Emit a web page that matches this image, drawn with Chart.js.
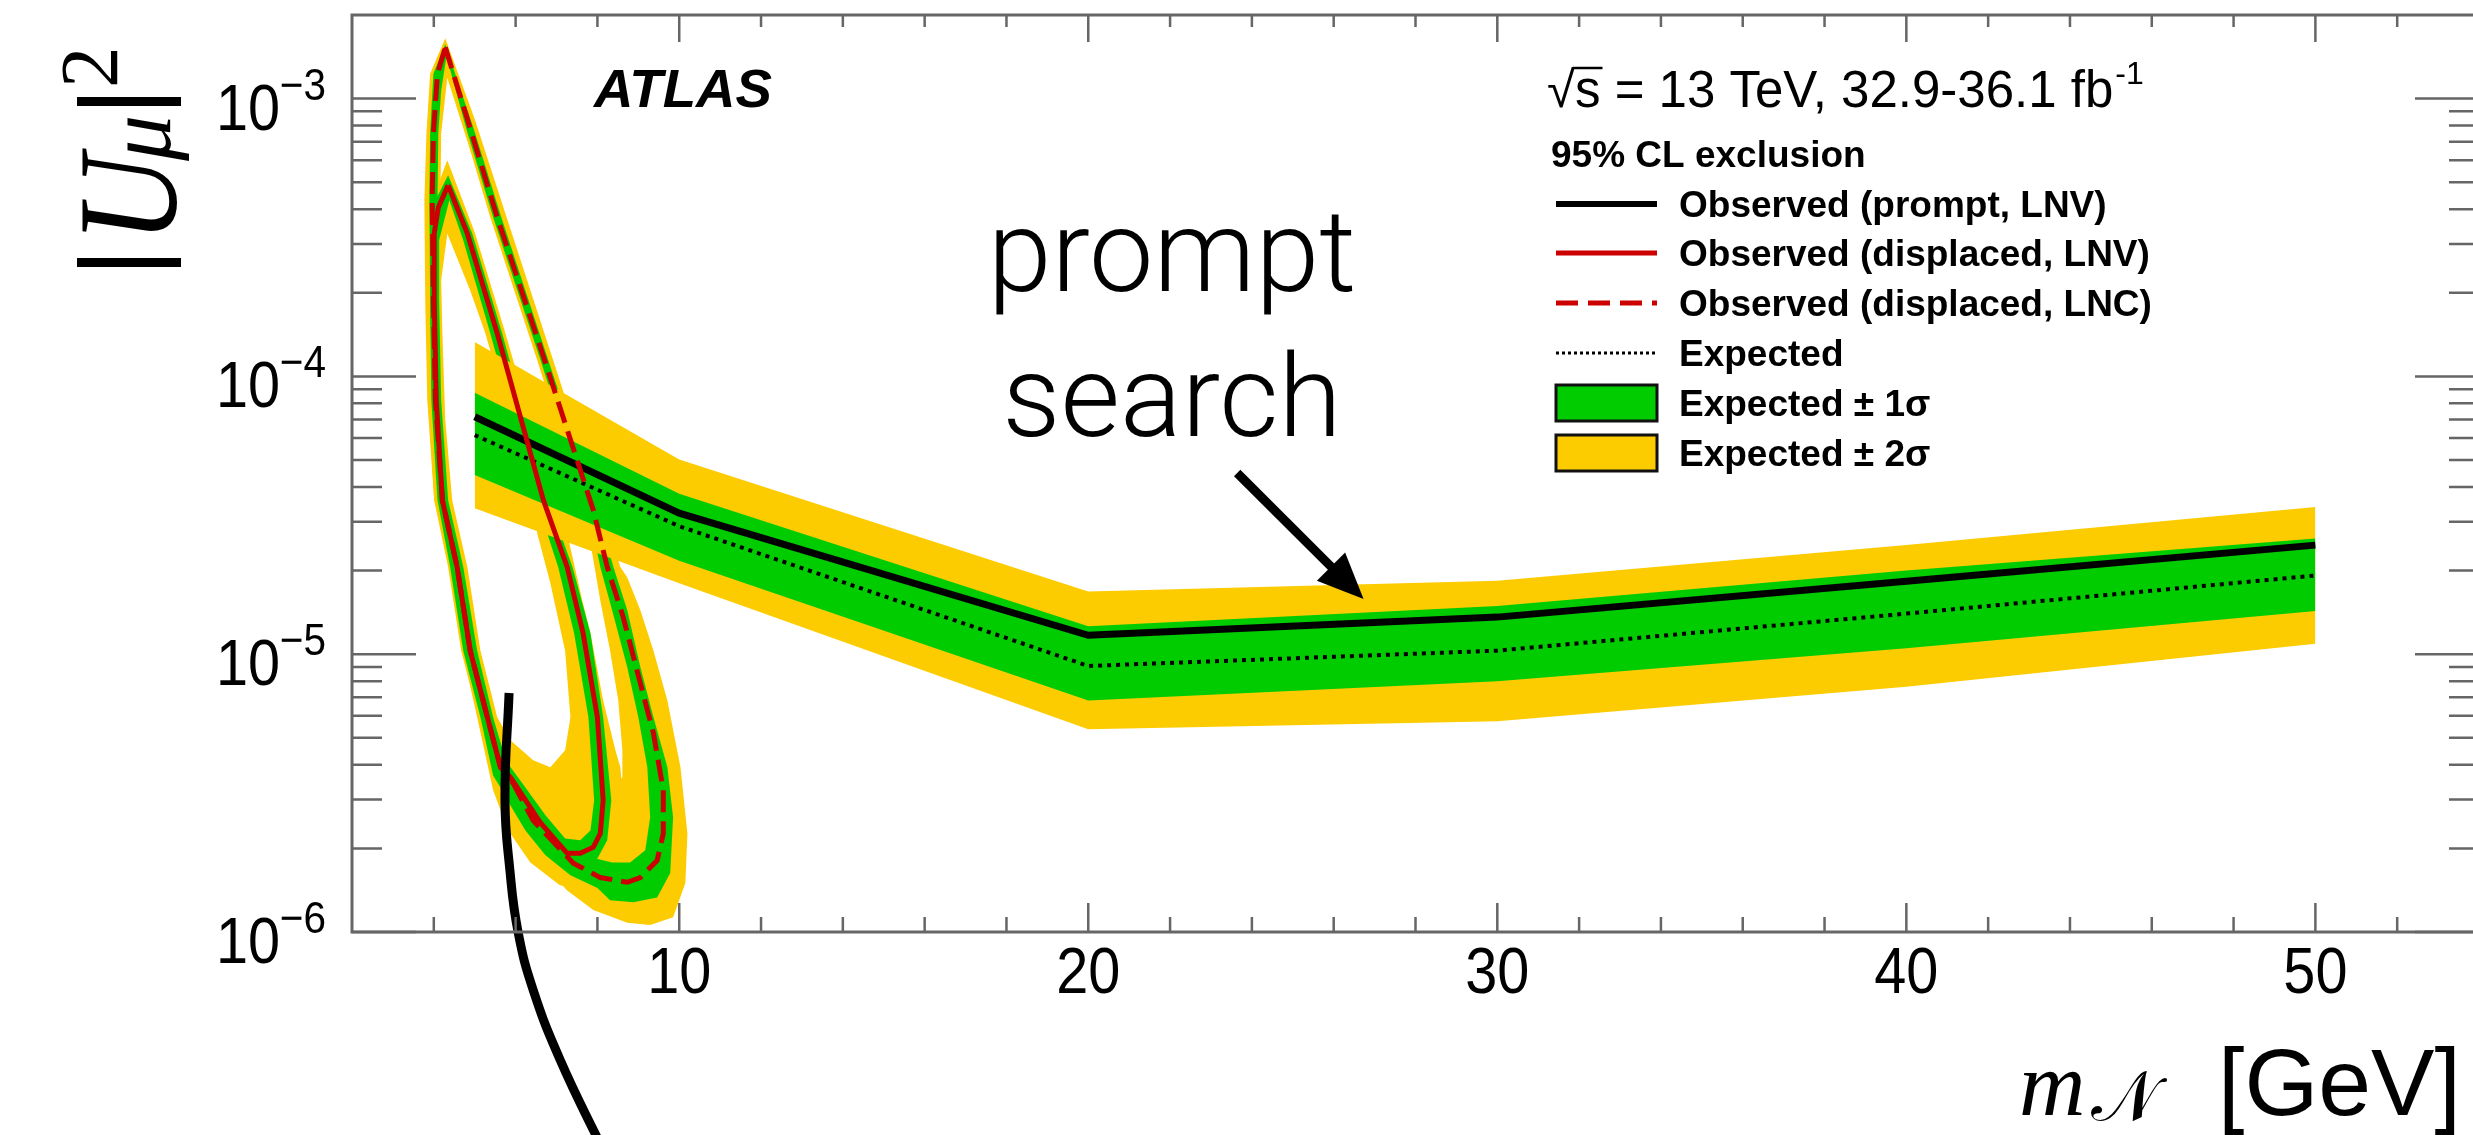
<!DOCTYPE html>
<html>
<head>
<meta charset="utf-8">
<script src="https://cdn.jsdelivr.net/npm/chart.js@4.4.1/dist/chart.umd.min.js"></script>
<style>
  html, body { margin: 0; padding: 0; background: #ffffff; overflow: hidden; }
  #wrap { width: 2490px; height: 1135px; }
</style>
</head>
<body>
<div id="wrap"><canvas id="chart" width="2490" height="1135"></canvas></div>
<script>
// ---- prompt search, mass points in GeV ----
const promptMass = [5, 10, 20, 30, 40, 50];
const promptObs = [7.16e-5, 3.22e-5, 1.17e-5, 1.36e-5, 1.83e-5, 2.47e-5];
const promptExp = [6.15e-5, 2.89e-5, 9.07e-6, 1.03e-5, 1.40e-5, 1.92e-5];
const promptUp1 = [8.73e-5, 3.78e-5, 1.26e-5, 1.49e-5, 2.0e-5, 2.61e-5];
const promptDn1 = [4.42e-5, 2.17e-5, 6.81e-6, 8.0e-6, 1.05e-5, 1.43e-5];
const promptUp2 = [1.33e-4, 5.02e-5, 1.68e-5, 1.84e-5, 2.47e-5, 3.39e-5];
const promptDn2 = [3.35e-5, 1.80e-5, 5.37e-6, 5.74e-6, 7.63e-6, 1.09e-5];

// ---- displaced search, LNV contour (observed) ----
const lnvObsMass = [4.35, 4.82, 5.55, 6.14, 6.68, 7.26, 7.65, 8.00, 8.14, 8.07, 7.90, 7.58, 7.26, 6.60, 5.87, 5.63, 5.31, 4.89, 4.57, 4.21, 4.06, 4.01, 4.01, 4.11, 4.35];
const lnvObsU2 = [4.88e-4, 3.27e-4, 1.43e-4, 6.95e-5, 3.58e-5, 2.06e-5, 1.19e-5, 5.93e-6, 2.98e-6, 2.26e-6, 2.02e-6, 1.92e-6, 1.92e-6, 2.48e-6, 3.61e-6, 3.92e-6, 5.93e-6, 1.03e-5, 2.06e-5, 3.58e-5, 8.2e-5, 1.88e-4, 3.27e-4, 4.06e-4, 4.88e-4];

// ---- displaced search, LNC contour (observed) ----
const lncObsMass = [4.28, 4.89, 5.55, 6.73, 7.90, 8.24, 8.63, 9.05, 9.37, 9.61, 9.61, 9.46, 9.05, 8.73, 8.07, 7.41, 6.43, 5.94, 5.63, 5.31, 4.89, 4.57, 4.21, 4.04, 3.99, 3.96, 3.99, 4.09, 4.28];
const lncObsU2 = [1.53e-3, 7.82e-4, 3.74e-4, 1.12e-4, 3.30e-5, 2.06e-5, 1.36e-5, 7.85e-6, 5.19e-6, 3.24e-6, 2.26e-6, 1.81e-6, 1.57e-6, 1.51e-6, 1.57e-6, 1.77e-6, 2.52e-6, 3.43e-6, 3.92e-6, 5.93e-6, 1.03e-5, 2.06e-5, 3.58e-5, 8.2e-5, 1.88e-4, 4.31e-4, 7.5e-4, 1.23e-3, 1.53e-3];

// ---- displaced expected bands: outer / inner contours ----
const lnvY2OutMass = [4.33, 5.01, 5.75, 6.36, 6.90, 7.26, 7.63, 7.83, 8.14, 8.44, 8.56, 8.61, 8.56, 8.36, 8.07, 7.58, 7.09, 6.36, 5.82, 5.45, 5.06, 4.70, 4.38, 4.01, 3.87, 3.82, 3.84, 3.96, 4.33];
const lnvY2OutU2 = [6.0e-4, 3.27e-4, 1.43e-4, 6.95e-5, 3.89e-5, 2.72e-5, 1.56e-5, 1.19e-5, 6.82e-6, 4.51e-6, 3.92e-6, 3.24e-6, 2.52e-6, 1.97e-6, 1.67e-6, 1.47e-6, 1.47e-6, 1.78e-6, 2.32e-6, 3.24e-6, 5.93e-6, 1.03e-5, 2.06e-5, 3.58e-5, 8.2e-5, 1.88e-4, 3.27e-4, 4.31e-4, 6.0e-4];
const lnvY2InMass = [4.33, 4.89, 5.26, 5.87, 6.36, 6.53, 6.85, 7.21, 7.34, 7.21, 6.85, 6.43, 5.87, 5.55, 5.14, 4.82, 4.45, 4.28, 4.21, 4.18, 4.33];
const lnvY2InU2 = [3.27e-4, 2.04e-4, 1.43e-4, 6.95e-5, 3.89e-5, 2.72e-5, 1.80e-5, 1.03e-5, 5.93e-6, 4.51e-6, 3.92e-6, 4.15e-6, 4.90e-6, 5.93e-6, 1.03e-5, 2.06e-5, 3.58e-5, 6.95e-5, 1.43e-4, 2.22e-4, 3.27e-4];

const lncY2OutMass = [4.28, 5.01, 5.75, 6.92, 8.07, 8.56, 8.73, 9.05, 9.37, 9.71, 10.03, 10.20, 10.15, 9.85, 9.29, 8.73, 7.90, 7.26, 6.60, 6.11, 5.63, 5.31, 5.09, 4.67, 4.35, 4.01, 3.84, 3.79, 3.77, 3.82, 3.91, 4.28];
const lncY2OutU2 = [1.65e-3, 8.36e-4, 3.86e-4, 1.14e-4, 3.44e-5, 2.06e-5, 1.89e-5, 1.44e-5, 1.03e-5, 6.82e-6, 3.92e-6, 2.26e-6, 1.50e-6, 1.13e-6, 1.06e-6, 1.08e-6, 1.20e-6, 1.41e-6, 1.81e-6, 2.59e-6, 3.37e-6, 4.70e-6, 5.93e-6, 1.03e-5, 2.06e-5, 3.58e-5, 8.2e-5, 1.88e-4, 4.31e-4, 7.5e-4, 1.23e-3, 1.65e-3];
const lncY2InMass = [4.33, 4.89, 5.38, 6.53, 7.65, 7.83, 8.07, 8.31, 8.51, 8.61, 8.61, 8.19, 7.58, 6.85, 6.11, 5.75, 5.38, 5.01, 4.65, 4.33, 4.18, 4.16, 4.16, 4.18, 4.33];
const lncY2InU2 = [1.19e-3, 6.52e-4, 3.74e-4, 1.14e-4, 3.44e-5, 2.51e-5, 1.56e-5, 1.03e-5, 6.82e-6, 4.51e-6, 3.61e-6, 3.10e-6, 2.98e-6, 3.24e-6, 3.82e-6, 4.51e-6, 6.82e-6, 1.03e-5, 2.06e-5, 3.58e-5, 8.2e-5, 1.88e-4, 4.31e-4, 7.5e-4, 1.19e-3];

const lnvG1OutMass = [4.35, 4.94, 5.67, 6.26, 6.80, 7.39, 7.83, 8.14, 8.34, 8.24, 8.00, 7.58, 7.09, 6.48, 5.82, 5.45, 5.14, 4.72, 4.40, 4.09, 3.94, 3.91, 3.91, 4.04, 4.35];
const lnvG1OutU2 = [5.30e-4, 3.27e-4, 1.43e-4, 6.95e-5, 3.58e-5, 2.06e-5, 1.19e-5, 5.93e-6, 2.98e-6, 2.14e-6, 1.84e-6, 1.72e-6, 1.72e-6, 2.14e-6, 2.98e-6, 3.66e-6, 5.93e-6, 1.03e-5, 2.06e-5, 3.58e-5, 8.2e-5, 1.88e-4, 3.27e-4, 4.31e-4, 5.30e-4];
const lnvG1InMass = [4.38, 4.72, 5.38, 5.97, 6.51, 7.04, 7.43, 7.78, 7.92, 7.83, 7.58, 7.21, 6.73, 6.11, 5.75, 5.45, 5.06, 4.72, 4.35, 4.18, 4.13, 4.13, 4.38];
const lnvG1InU2 = [4.31e-4, 3.09e-4, 1.43e-4, 6.95e-5, 3.58e-5, 2.06e-5, 1.19e-5, 5.93e-6, 2.98e-6, 2.32e-6, 2.14e-6, 2.17e-6, 2.63e-6, 3.52e-6, 4.15e-6, 5.93e-6, 1.03e-5, 2.06e-5, 3.58e-5, 8.2e-5, 1.88e-4, 3.09e-4, 4.31e-4];

const lncG1OutMass = [4.28, 4.97, 5.65, 6.82, 8.00, 8.39, 8.73, 9.05, 9.37, 9.71, 9.85, 9.78, 9.46, 8.88, 8.31, 8.00, 7.34, 6.73, 6.24, 5.87, 5.58, 5.21, 4.79, 4.48, 4.11, 3.96, 3.91, 3.89, 3.91, 3.99, 4.28];
const lncG1OutU2 = [1.57e-3, 7.82e-4, 3.74e-4, 1.12e-4, 3.30e-5, 2.06e-5, 1.44e-5, 8.97e-6, 5.93e-6, 3.92e-6, 2.59e-6, 1.63e-6, 1.33e-6, 1.28e-6, 1.30e-6, 1.44e-6, 1.60e-6, 1.89e-6, 2.32e-6, 2.86e-6, 3.66e-6, 5.55e-6, 1.03e-5, 2.06e-5, 3.58e-5, 8.2e-5, 1.88e-4, 4.31e-4, 7.5e-4, 1.23e-3, 1.57e-3];
const lncG1InMass = [4.31, 4.79, 5.45, 6.63, 7.78, 8.07, 8.36, 8.73, 9.00, 9.22, 9.29, 9.17, 8.80, 8.36, 7.83, 7.21, 6.60, 6.11, 5.77, 5.43, 5.04, 4.70, 4.33, 4.16, 4.11, 4.09, 4.11, 4.18, 4.31];
const lncG1InU2 = [1.42e-3, 7.82e-4, 3.74e-4, 1.12e-4, 3.30e-5, 2.06e-5, 1.44e-5, 8.97e-6, 5.93e-6, 3.92e-6, 2.59e-6, 1.97e-6, 1.78e-6, 1.78e-6, 1.86e-6, 2.05e-6, 2.52e-6, 3.24e-6, 4.15e-6, 5.93e-6, 1.03e-5, 2.06e-5, 3.58e-5, 8.2e-5, 1.88e-4, 4.31e-4, 7.5e-4, 1.07e-3, 1.42e-3];

// ---- hand-drawn annotations (in data coordinates) ----
const arcMass = [5.84, 5.74, 5.86, 6.06, 6.43, 7.09, 8.14];
const arcU2 = [7.25e-6, 2.99e-6, 1.67e-6, 1.0e-6, 6.18e-7, 3.46e-7, 1.64e-7];
const arrowMass = [23.64, 26.73];
const arrowU2 = [4.49e-5, 1.58e-5];

// ---- axes and legend text ----
const xTickValues = [10, 20, 30, 40, 50];
const xTickLabels = ['10', '20', '30', '40', '50'];
const yTickValues = [1e-3, 1e-4, 1e-5, 1e-6];
const yTickExponents = ['\u22123', '\u22124', '\u22125', '\u22126'];
const legendLabels = [
  'Observed (prompt, LNV)',
  'Observed (displaced, LNV)',
  'Observed (displaced, LNC)',
  'Expected',
  'Expected \u00b1 1\u03c3',
  'Expected \u00b1 2\u03c3',
];

const YELLOW = '#fccb00';
const GREEN = '#00cc00';
const RED = '#cc0000';
const NONE = 'rgba(0,0,0,0)';
const SANS = '"Liberation Sans", Arial, Helvetica, sans-serif';
const SERIF = '"Liberation Serif", "DejaVu Serif", serif';

function xy(xs, ys) {
  return xs.map((x, i) => ({ x: x, y: ys[i] }));
}

// outer contour followed by the inner one reversed -> filled ring
function ring(oX, oY, iX, iY) {
  return xy(oX, oY).concat(xy(iX, iY).reverse());
}

function shape(data, color, order) {
  return { data, showLine: true, fill: 'shape', backgroundColor: color, borderColor: NONE, borderWidth: 0, pointRadius: 0, order };
}

function line(data, color, width, dash, order) {
  return { data, showLine: true, fill: false, borderColor: color, borderWidth: width, borderDash: dash, pointRadius: 0, order };
}

const datasets = [
  shape(ring(lncY2OutMass, lncY2OutU2, lncY2InMass, lncY2InU2), YELLOW, 20),
  shape(ring(lnvY2OutMass, lnvY2OutU2, lnvY2InMass, lnvY2InU2), YELLOW, 19),
  shape(ring(lncG1OutMass, lncG1OutU2, lncG1InMass, lncG1InU2), GREEN, 18),
  shape(ring(lnvG1OutMass, lnvG1OutU2, lnvG1InMass, lnvG1InU2), GREEN, 17),
  { data: xy(promptMass, promptUp2), showLine: true, fill: 5, backgroundColor: YELLOW, borderColor: NONE, borderWidth: 0, pointRadius: 0, order: 16 },
  line(xy(promptMass, promptDn2), NONE, 0, [], 15),
  { data: xy(promptMass, promptUp1), showLine: true, fill: 7, backgroundColor: GREEN, borderColor: NONE, borderWidth: 0, pointRadius: 0, order: 14 },
  line(xy(promptMass, promptDn1), NONE, 0, [], 13),
  line(xy(promptMass, promptExp), '#000000', 4, [4, 5], 12),
  line(xy(promptMass, promptObs), '#000000', 7, [], 11),
  line(xy(lnvObsMass, lnvObsU2), RED, 5, [], 10),
  line(xy(lncObsMass, lncObsU2), RED, 5, [22, 9], 9),
  Object.assign(line(xy(arcMass, arcU2), '#000000', 9, [], 1), { clip: false, tension: 0.45 }),
];

function drawText(ctx, str, x, y, font, align, sx) {
  ctx.save();
  ctx.font = font;
  ctx.textAlign = align || 'left';
  ctx.textBaseline = 'alphabetic';
  ctx.translate(x, y);
  if (sx) ctx.scale(sx, 1);
  ctx.fillText(str, 0, 0);
  ctx.restore();
}

/**
 * ROOT style frame: ticks inside on all four sides, labels outside
 */
const rootFrame = {
  id: 'rootFrame',
  afterDraw(chart) {
    const { ctx, chartArea: a } = chart;
    const xs = chart.scales.x;
    const ys = chart.scales.y;
    ctx.save();
    ctx.strokeStyle = '#666666';
    ctx.lineWidth = 2.5;
    ctx.beginPath();
    for (let v = 4; v < 54; v += 2) {
      const px = xs.getPixelForValue(v);
      const major = xTickValues.includes(v);
      ctx.moveTo(px, a.bottom);
      ctx.lineTo(px, a.bottom - (major ? 29 : 15));
      ctx.moveTo(px, a.top);
      ctx.lineTo(px, a.top + (major ? 27 : 12));
    }
    yTickValues.forEach((d) => {
      for (let m = 1; m <= 9; m++) {
        const v = d * m;
        if (v >= 0.002) continue;
        const py = ys.getPixelForValue(v);
        const len = m === 1 ? 64 : 30;
        ctx.moveTo(a.left, py);
        ctx.lineTo(a.left + len, py);
        ctx.moveTo(a.right, py);
        ctx.lineTo(a.right - len, py);
      }
    });
    ctx.stroke();
    ctx.lineWidth = 3;
    ctx.strokeRect(a.left, a.top, a.right - a.left, a.bottom - a.top);

    ctx.fillStyle = '#000000';
    xTickValues.forEach((v, i) => {
      drawText(ctx, xTickLabels[i], xs.getPixelForValue(v), 993, '64px ' + SANS, 'center', 0.9);
    });
    yTickValues.forEach((v, i) => {
      const py = ys.getPixelForValue(v);
      drawText(ctx, '10', 280, py + 31, '64px ' + SANS, 'right', 0.9);
      drawText(ctx, yTickExponents[i], 326, py + 1, '45px ' + SANS, 'right', 0.9);
    });
    ctx.restore();
  },
};

/**
 * Labels, legend and the hand-drawn "prompt search" arrow
 */
const annotations = {
  id: 'annotations',
  afterDraw(chart) {
    const { ctx } = chart;
    const xs = chart.scales.x;
    const ys = chart.scales.y;
    ctx.save();
    ctx.fillStyle = '#000000';

    // ATLAS label
    drawText(ctx, 'ATLAS', 594, 107, 'italic bold 53px ' + SANS, 'left', 1.03);

    // sqrt(s) line
    ctx.font = '51px ' + SANS;
    const rootW = ctx.measureText('\u221a').width;
    const sW = ctx.measureText('s').width;
    const headW = ctx.measureText('\u221as = 13 TeV, 32.9-36.1 fb').width;
    drawText(ctx, '\u221as = 13 TeV, 32.9-36.1 fb', 1547, 107, '51px ' + SANS);
    ctx.strokeStyle = '#000000';
    ctx.lineWidth = 2.5;
    ctx.beginPath();
    ctx.moveTo(1547 + rootW - 2, 68);
    ctx.lineTo(1547 + rootW + sW + 2, 68);
    ctx.stroke();
    drawText(ctx, '-1', 1547 + headW + 2, 84, '32px ' + SANS);

    // legend
    drawText(ctx, '95% CL exclusion', 1551, 167, 'bold 37px ' + SANS);
    const rows = [204, 253, 303, 353, 403, 453];
    const lx0 = 1556;
    const lx1 = 1657;
    const styles = [
      { color: '#000000', width: 6, dash: [] },
      { color: RED, width: 5, dash: [] },
      { color: RED, width: 5, dash: [22, 10] },
      { color: '#000000', width: 3, dash: [3, 3] },
    ];
    styles.forEach((s, i) => {
      ctx.save();
      ctx.strokeStyle = s.color;
      ctx.lineWidth = s.width;
      ctx.setLineDash(s.dash);
      ctx.beginPath();
      ctx.moveTo(lx0, rows[i]);
      ctx.lineTo(lx1, rows[i]);
      ctx.stroke();
      ctx.restore();
    });
    [GREEN, YELLOW].forEach((c, k) => {
      const cy = rows[4 + k];
      ctx.fillStyle = c;
      ctx.fillRect(lx0, cy - 18, lx1 - lx0, 36);
      ctx.strokeStyle = '#111111';
      ctx.lineWidth = 3;
      ctx.strokeRect(lx0, cy - 18, lx1 - lx0, 36);
    });
    ctx.fillStyle = '#000000';
    legendLabels.forEach((t, i) => {
      drawText(ctx, t, 1679, rows[i] + 13, 'bold 37px ' + SANS);
    });

    // "prompt search" note with arrow
    drawText(ctx, 'prompt', 1172, 291, '300 115px Roboto, ' + SANS, 'center');
    drawText(ctx, 'search', 1172, 436, '300 115px Roboto, ' + SANS, 'center');
    const ax0 = xs.getPixelForValue(arrowMass[0]);
    const ay0 = ys.getPixelForValue(arrowU2[0]);
    const ax1 = xs.getPixelForValue(arrowMass[1]);
    const ay1 = ys.getPixelForValue(arrowU2[1]);
    const ang = Math.atan2(ay1 - ay0, ax1 - ax0);
    const headLen = 46;
    const headHalf = 20;
    const bx = ax1 - headLen * Math.cos(ang);
    const by = ay1 - headLen * Math.sin(ang);
    ctx.strokeStyle = '#000000';
    ctx.lineWidth = 9;
    ctx.beginPath();
    ctx.moveTo(ax0, ay0);
    ctx.lineTo(bx + 4 * Math.cos(ang), by + 4 * Math.sin(ang));
    ctx.stroke();
    ctx.beginPath();
    ctx.moveTo(ax1, ay1);
    ctx.lineTo(bx + headHalf * Math.sin(ang), by - headHalf * Math.cos(ang));
    ctx.lineTo(bx - headHalf * Math.sin(ang), by + headHalf * Math.cos(ang));
    ctx.closePath();
    ctx.fill();

    // y title |U_mu|^2, rotated to read upwards
    ctx.save();
    ctx.translate(176, 265);
    ctx.rotate(-Math.PI / 2);
    drawText(ctx, '|', -12, -18, '112px ' + SANS);
    drawText(ctx, 'U', 22, 0, 'italic 142px ' + SERIF, 'left', 0.86);
    drawText(ctx, '\u03bc', 104, -6, 'italic 92px ' + SERIF);
    drawText(ctx, '|', 149, -18, '112px ' + SANS);
    drawText(ctx, '2', 177, -59, '83px ' + SERIF);
    ctx.restore();

    // x title m_N [GeV]
    drawText(ctx, 'm', 2019, 1115, 'italic 92px ' + SERIF);
    drawText(ctx, '\ud835\udca9', 2091, 1120, '70px "DejaVu Sans", ' + SERIF);
    drawText(ctx, '[GeV]', 2218, 1115, '95px ' + SANS);

    ctx.restore();
  },
};

new Chart(document.getElementById('chart'), {
  type: 'scatter',
  data: { datasets },
  options: {
    responsive: false,
    devicePixelRatio: 1,
    animation: false,
    events: [],
    layout: { padding: { left: 352, right: 11, top: 15, bottom: 203 } },
    scales: {
      x: { type: 'linear', min: 2, max: 54, display: false },
      y: { type: 'logarithmic', min: 1e-6, max: 2e-3, display: false },
    },
    elements: { point: { radius: 0 }, line: { tension: 0 } },
    plugins: { legend: { display: false }, tooltip: { enabled: false } },
  },
  plugins: [rootFrame, annotations],
});
</script>
</body>
</html>
